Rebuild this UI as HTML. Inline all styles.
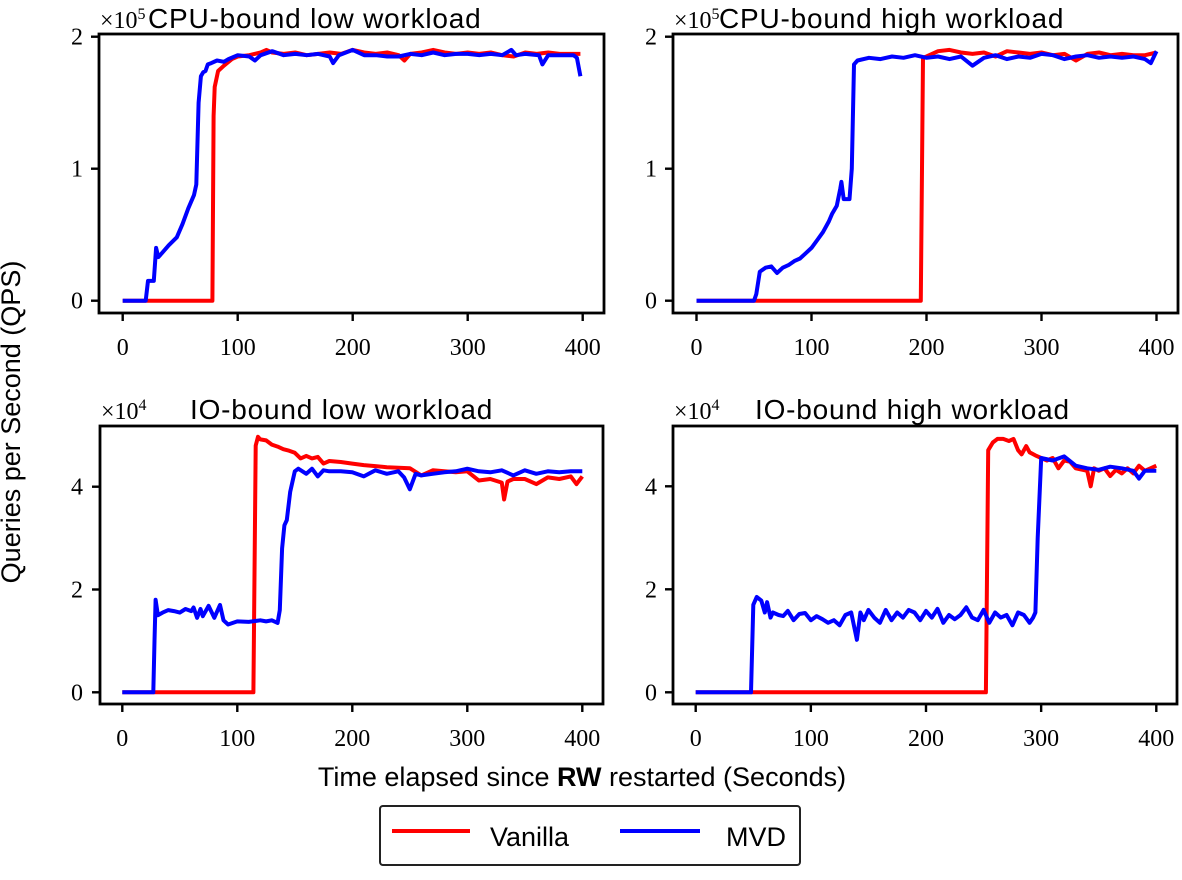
<!DOCTYPE html>
<html><head><meta charset="utf-8"><style>
body{margin:0;background:#fff;width:1182px;height:880px;overflow:hidden}
svg{display:block}
.tk{font-family:"Liberation Serif",serif;font-size:24px;fill:#000}
.tt{font-family:"Liberation Sans",sans-serif;font-size:28px;fill:#000;letter-spacing:0.8px}
.ax{font-family:"Liberation Sans",sans-serif;font-size:27px;fill:#000}
.sc{font-family:"Liberation Serif",serif;font-size:24px;fill:#000}
</style></head><body>
<svg id="chart" width="1182" height="880" xmlns="http://www.w3.org/2000/svg">
<text class="ax" x="20" y="422" text-anchor="middle" transform="rotate(-90 20 422)">Queries per Second (QPS)</text>
<text class="ax" x="582" y="786" text-anchor="middle">Time elapsed since <tspan font-weight="bold">RW</tspan> restarted (Seconds)</text>
<g>
<rect x="380" y="806" width="420" height="59" rx="3" fill="#fff" stroke="#222" stroke-width="2"/>
<line x1="392" y1="831" x2="470" y2="831" stroke="#ff0000" stroke-width="4"/>
<text class="ax" x="490" y="846">Vanilla</text>
<line x1="620" y1="831" x2="700" y2="831" stroke="#0000ff" stroke-width="4"/>
<text class="ax" x="726" y="846">MVD</text>
</g>
</svg>
<script>
const xTicks=[0,100,200,300,400];
const cpuTicks=[0,1,2];
const ioTicks=[0,2,4];
// CPU low (x1e5)
const cpuLowVanT=[0,78,79,80,83,88,95,100,110,120,125,130,140,150,160,170,180,190,200,210,220,230,240,245,250,260,270,280,290,300,310,320,330,340,350,360,370,380,390,398];
const cpuLowVanV=[0,0,1.4,1.62,1.74,1.78,1.83,1.85,1.86,1.88,1.90,1.88,1.87,1.88,1.86,1.87,1.88,1.87,1.90,1.88,1.87,1.88,1.86,1.82,1.87,1.88,1.90,1.88,1.87,1.88,1.87,1.88,1.86,1.85,1.88,1.87,1.88,1.87,1.87,1.87];
const cpuLowMvdT=[0,20,22,27,29,31,33,40,47,52,57,62,64,66,68,70,72,74,77,82,88,92,100,110,115,120,130,140,150,160,170,180,183,188,200,210,220,230,240,250,260,270,280,290,300,310,320,330,338,342,350,362,365,370,380,392,395,398];
const cpuLowMvdV=[0,0,0.15,0.15,0.40,0.33,0.35,0.42,0.48,0.58,0.70,0.80,0.88,1.50,1.70,1.73,1.74,1.79,1.80,1.82,1.81,1.83,1.86,1.85,1.82,1.86,1.89,1.86,1.87,1.86,1.87,1.85,1.80,1.86,1.90,1.86,1.86,1.85,1.85,1.87,1.86,1.88,1.86,1.87,1.87,1.86,1.87,1.86,1.90,1.86,1.87,1.86,1.79,1.86,1.86,1.86,1.84,1.70];
// CPU high (x1e5)
const cpuHighVanT=[0,195,197,200,210,220,230,240,250,260,270,280,290,300,310,320,330,340,350,360,370,380,390,400];
const cpuHighVanV=[0,0,1.84,1.85,1.89,1.90,1.88,1.87,1.88,1.85,1.89,1.88,1.87,1.88,1.86,1.87,1.82,1.87,1.88,1.86,1.87,1.86,1.86,1.88];
const cpuHighMvdT=[0,50,52,55,60,65,70,75,80,85,90,95,100,105,110,115,118,122,125,126,128,133,135,137,140,150,160,170,180,190,200,210,220,230,240,250,260,270,280,290,300,310,320,330,340,350,360,370,380,390,395,400];
const cpuHighMvdV=[0,0,0.05,0.22,0.25,0.26,0.21,0.25,0.27,0.30,0.32,0.36,0.40,0.46,0.52,0.60,0.66,0.72,0.85,0.90,0.77,0.77,1.00,1.79,1.82,1.84,1.83,1.85,1.84,1.86,1.84,1.85,1.83,1.85,1.78,1.84,1.86,1.83,1.85,1.84,1.87,1.86,1.83,1.85,1.86,1.84,1.85,1.84,1.85,1.83,1.80,1.89];
// IO low (x1e4)
const ioLowVanT=[0,114,116,118,120,125,130,135,140,145,150,155,160,165,170,175,180,190,200,210,220,230,240,250,260,270,280,290,300,310,320,330,332,335,340,350,360,370,380,390,395,400];
const ioLowVanV=[0,0,4.8,4.97,4.92,4.90,4.82,4.78,4.73,4.70,4.66,4.55,4.60,4.55,4.58,4.45,4.50,4.48,4.45,4.42,4.40,4.38,4.37,4.36,4.22,4.32,4.30,4.28,4.30,4.12,4.15,4.08,3.75,4.10,4.15,4.15,4.05,4.18,4.15,4.20,4.05,4.20];
const ioLowMvdT=[0,27,28,29,31,35,40,45,50,55,60,62,65,68,70,75,80,85,88,92,100,110,120,125,130,135,137,139,141,143,146,150,153,160,165,170,175,180,190,200,210,220,230,240,245,250,255,260,270,280,290,300,310,320,330,340,350,360,370,380,390,400];
const ioLowMvdV=[0,0,1.0,1.80,1.50,1.55,1.60,1.58,1.55,1.62,1.58,1.65,1.45,1.62,1.48,1.68,1.45,1.70,1.40,1.32,1.38,1.37,1.40,1.38,1.40,1.35,1.60,2.80,3.25,3.35,3.90,4.30,4.35,4.25,4.35,4.20,4.32,4.30,4.30,4.28,4.20,4.32,4.25,4.30,4.18,3.95,4.25,4.22,4.25,4.28,4.30,4.35,4.30,4.28,4.32,4.22,4.32,4.25,4.30,4.28,4.30,4.30];
// IO high (x1e4)
const ioHighVanT=[0,252,254,258,262,267,272,276,280,283,287,290,295,300,305,310,315,320,325,330,340,343,346,350,355,360,365,370,375,380,385,390,395,400];
const ioHighVanV=[0,0,4.70,4.85,4.92,4.92,4.88,4.92,4.70,4.62,4.78,4.66,4.60,4.55,4.50,4.55,4.35,4.50,4.48,4.35,4.30,4.00,4.35,4.30,4.35,4.20,4.32,4.25,4.35,4.25,4.40,4.30,4.35,4.40];
const ioHighMvdT=[0,48,50,53,57,60,62,65,67,72,76,80,85,90,95,100,105,110,115,120,125,130,135,140,143,146,150,155,160,165,170,175,180,185,190,195,200,205,210,215,220,225,230,235,240,245,250,255,260,265,270,275,280,285,290,293,295,297,300,310,320,330,340,350,360,370,380,385,390,400];
const ioHighMvdV=[0,0,1.70,1.85,1.78,1.55,1.75,1.45,1.55,1.50,1.48,1.58,1.40,1.52,1.54,1.40,1.48,1.42,1.35,1.40,1.30,1.50,1.55,1.02,1.55,1.40,1.60,1.45,1.35,1.60,1.40,1.55,1.45,1.60,1.55,1.40,1.58,1.45,1.62,1.35,1.50,1.42,1.50,1.65,1.45,1.40,1.60,1.35,1.55,1.45,1.50,1.30,1.55,1.50,1.35,1.45,1.55,3.00,4.55,4.50,4.58,4.40,4.35,4.32,4.38,4.35,4.30,4.15,4.30,4.30];

const NS='http://www.w3.org/2000/svg';
const svg=document.getElementById('chart');
function mk(tag,attrs,parent){const e=document.createElementNS(NS,tag);for(const k in attrs)e.setAttribute(k,attrs[k]);(parent||svg).appendChild(e);return e;}

const panels=[
 {key:'cpu-low',bl:99,br:604,bt:34,bb:313,x0:122.7,xs:1.15,y0:300.7,ys:132,yt:cpuTicks,exp:'5',title:'CPU-bound low workload',tx:148,ty:28,vt:cpuLowVanT,vv:cpuLowVanV,mt:cpuLowMvdT,mv:cpuLowMvdV,lx:83},
 {key:'cpu-high',bl:673,br:1178,bt:34,bb:313,x0:696.5,xs:1.15,y0:300.7,ys:132,yt:cpuTicks,exp:'5',title:'CPU-bound high workload',tx:719,ty:28,vt:cpuHighVanT,vv:cpuHighVanV,mt:cpuHighMvdT,mv:cpuHighMvdV,lx:657},
 {key:'io-low',bl:100,br:603,bt:426,bb:704,x0:122.3,xs:1.15,y0:692.3,ys:51.4,yt:ioTicks,exp:'4',title:'IO-bound low workload',tx:190,ty:419,vt:ioLowVanT,vv:ioLowVanV,mt:ioLowMvdT,mv:ioLowMvdV,lx:83},
 {key:'io-high',bl:673,br:1177,bt:426,bb:704,x0:695.7,xs:1.1515,y0:692.3,ys:51.5,yt:ioTicks,exp:'4',title:'IO-bound high workload',tx:755,ty:419,vt:ioHighVanT,vv:ioHighVanV,mt:ioHighMvdT,mv:ioHighMvdV,lx:657}
];

panels.forEach(p=>{
 const X=t=>p.x0+p.xs*t, Y=v=>p.y0-p.ys*v;
 const g=mk('g',{});
 
 
 const clipId='clip-'+p.key;
 const cp=mk('clipPath',{id:clipId},g);
 mk('rect',{x:p.bl,y:p.bt,width:p.br-p.bl,height:p.bb-p.bt},cp);
 [[p.vt,p.vv,'#ff0000','vanilla'],[p.mt,p.mv,'#0000ff','mvd']].forEach(s=>{
  const d=s[0].map((t,i)=>(i?'L':'M')+X(t).toFixed(1)+' '+Y(s[1][i]).toFixed(1)).join(' ');
  const path=mk('path',{d:d,fill:'none',stroke:s[2],'stroke-width':4,'stroke-linejoin':'round','clip-path':'url(#'+clipId+')'},g);
  
  
 });
 const box=mk('rect',{x:p.bl,y:p.bt,width:p.br-p.bl,height:p.bb-p.bt,fill:'none',stroke:'#000','stroke-width':2.8},g);
 
 
 xTicks.forEach(t=>{
  mk('line',{x1:X(t),x2:X(t),y1:p.bb,y2:p.bb+8,stroke:'#000','stroke-width':2.4},g);
  const tx=mk('text',{class:'tk',x:X(t),y:p.bb+42,'text-anchor':'middle'},g);
  tx.textContent=t;
  
  
 });
 p.yt.forEach(v=>{
  mk('line',{x1:p.bl-8,x2:p.bl,y1:Y(v),y2:Y(v),stroke:'#000','stroke-width':2.4},g);
  const ty=mk('text',{class:'tk',x:p.lx,y:Y(v)+8,'text-anchor':'end'},g);
  ty.textContent=v;
  
  
 });
 const sc=mk('text',{class:'sc',x:p.bl+1,y:p.ty},g);
 sc.innerHTML='×10<tspan dy="-9" font-size="16">'+p.exp+'</tspan>';
 
 
 const tt=mk('text',{class:'tt',x:p.tx,y:p.ty},g);
 tt.textContent=p.title;
 
 
});
</script>
</body></html>
